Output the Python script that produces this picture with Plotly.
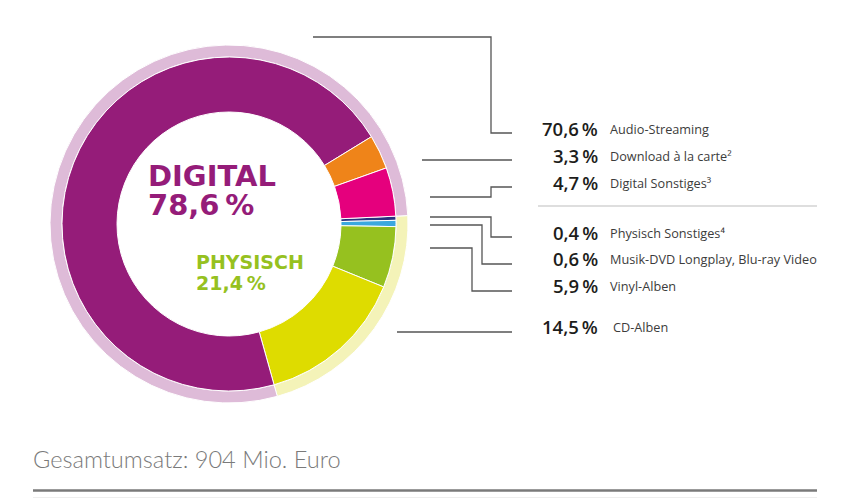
import plotly.graph_objects as go

# page body has an 8px margin -> figure is sized so the page is exactly 850x499
PAGE_OFF = 8
W, H = 850 - PAGE_OFF, 499 - PAGE_OFF

# ---------------- data ----------------
categories = ["Physisch Sonstiges⁴", "Musik-DVD Longplay, Blu-ray Video", "Vinyl-Alben",
              "CD-Alben", "Audio-Streaming", "Download à la carte²", "Digital Sonstiges³"]
values = [0.4, 0.6, 5.9, 14.5, 70.6, 3.3, 4.7]
groups = ["Physisch", "Physisch", "Physisch", "Physisch", "Digital", "Digital", "Digital"]
colors = ["#2A317E", "#3BA8DF", "#96C11F", "#DEDC00", "#951C79", "#EF8419", "#E5007D"]

group_names = ["Physisch", "Digital"]
group_values = [round(sum(v for v, g in zip(values, groups) if g == n), 1) for n in group_names]
group_colors = ["#F4F3B8", "#DEBBD8"]
group_text_colors = ["#96C11F", "#951C79"]

# label order on the right (top to bottom)
label_order = ["Audio-Streaming", "Download à la carte²", "Digital Sonstiges³",
               "Physisch Sonstiges⁴", "Musik-DVD Longplay, Blu-ray Video", "Vinyl-Alben", "CD-Alben"]

total_text = "Gesamtumsatz: 904 Mio. Euro"

# ---------------- layout helpers (page pixels -> paper) ----------------
def fx(x):
    return (x - PAGE_OFF) / W

def fy(y):
    return 1 - (y - PAGE_OFF) / H

def fmt(v):
    return f"{v:.1f}".replace(".", ",") + "\u2009%"

cx, cy = 229, 224
r_out, r_mid, r_in = 179, 167, 112
start_angle = 87.3

fig = go.Figure()

fig.add_trace(go.Pie(
    labels=group_names, values=group_values, sort=False, direction="clockwise",
    rotation=start_angle, hole=r_mid / r_out, textinfo="none",
    marker=dict(colors=group_colors, line=dict(color="white", width=1)),
    domain=dict(x=[fx(cx - r_out), fx(cx + r_out)], y=[fy(cy + r_out), fy(cy - r_out)]),
    showlegend=False, hoverinfo="label+percent",
))

fig.add_trace(go.Pie(
    labels=categories, values=values, sort=False, direction="clockwise",
    rotation=start_angle, hole=r_in / r_mid, textinfo="none",
    marker=dict(colors=colors, line=dict(color="white", width=1)),
    domain=dict(x=[fx(cx - r_mid), fx(cx + r_mid)], y=[fy(cy + r_mid), fy(cy - r_mid)]),
    showlegend=False, hoverinfo="label+percent",
))

annotations = []
shapes = []

# right side labels
label_y = [128, 155, 182, 232, 258, 285, 326]
label_x = [608, 608, 608, 608, 608, 608, 611]
for name, ly, lx in zip(label_order, label_y, label_x):
    v = values[categories.index(name)]
    annotations.append(dict(x=fx(600), y=fy(ly), xref="paper", yref="paper", xanchor="right",
                            yanchor="middle", showarrow=False, text=fmt(v),
                            font=dict(family="Open Sans", size=18.5, color="#1d1d1b", weight=600)))
    annotations.append(dict(x=fx(lx), y=fy(ly + 1), xref="paper", yref="paper", xanchor="left",
                            yanchor="middle", showarrow=False, text=name,
                            font=dict(family="Open Sans", size=12.7, color="#3c3c3b")))

# connector lines (page pixels)
connectors = [
    "M313,37 H491 V133 H512",
    "M422,160 H512",
    "M430,197 H491 V187 H512",
    "M430,217 H491 V237 H512",
    "M430,225 H482 V264 H512",
    "M430,248 H472 V291 H512",
    "M397,332 H512",
]

def to_paper(path):
    out, tok = [], path.replace(",", " ").split()
    cur = [0.0, 0.0]
    i = 0
    while i < len(tok):
        t = tok[i]
        if t[0] == "M":
            cur = [float(t[1:]), float(tok[i + 1])]; i += 2
            out.append(f"M{fx(cur[0])},{fy(cur[1])}")
        elif t[0] == "H":
            cur[0] = float(t[1:]); i += 1
            out.append(f"L{fx(cur[0])},{fy(cur[1])}")
        elif t[0] == "V":
            cur[1] = float(t[1:]); i += 1
            out.append(f"L{fx(cur[0])},{fy(cur[1])}")
    return " ".join(out)

for p in connectors:
    shapes.append(dict(type="path", path=to_paper(p), xref="paper", yref="paper",
                       line=dict(color="#555555", width=1.3)))

# separator between digital and physical labels
shapes.append(dict(type="line", x0=fx(538), x1=fx(817), y0=fy(206), y1=fy(206),
                   xref="paper", yref="paper", line=dict(color="#DEDEDE", width=2)))

# bottom rules
shapes.append(dict(type="line", x0=fx(33), x1=fx(817), y0=fy(490.5), y1=fy(490.5),
                   xref="paper", yref="paper", line=dict(color="#7A7A7A", width=2.5)))
shapes.append(dict(type="line", x0=fx(33), x1=fx(817), y0=fy(497.5), y1=fy(497.5),
                   xref="paper", yref="paper", line=dict(color="#EEEEEE", width=1)))

# centre texts
dig = group_values[group_names.index("Digital")]
phy = group_values[group_names.index("Physisch")]
centre_font = "DejaVu Sans"
annotations += [
    dict(x=fx(146), y=fy(176), xref="paper", yref="paper", xanchor="left", yanchor="middle",
         showarrow=False, text="DIGITAL",
         font=dict(family=centre_font, size=29, color=group_text_colors[1], weight="bold")),
    dict(x=fx(146), y=fy(205), xref="paper", yref="paper", xanchor="left", yanchor="middle",
         showarrow=False, text=fmt(dig),
         font=dict(family=centre_font, size=29, color=group_text_colors[1], weight="bold")),
    dict(x=fx(194), y=fy(262), xref="paper", yref="paper", xanchor="left", yanchor="middle",
         showarrow=False, text="PHYSISCH",
         font=dict(family=centre_font, size=19, color=group_text_colors[0], weight="bold")),
    dict(x=fx(194), y=fy(283), xref="paper", yref="paper", xanchor="left", yanchor="middle",
         showarrow=False, text=fmt(phy),
         font=dict(family=centre_font, size=19, color=group_text_colors[0], weight="bold")),
    dict(x=fx(31), y=fy(459), xref="paper", yref="paper", xanchor="left", yanchor="middle",
         showarrow=False, text=total_text,
         font=dict(family="Lato", size=23.6, color="#7A7A7A", weight=300)),
]

fig.update_layout(
    width=W, height=H, autosize=False,
    margin=dict(l=0, r=0, t=0, b=0),
    paper_bgcolor="white", plot_bgcolor="white",
    annotations=annotations, shapes=shapes,
)

fig.write_html("out.html")
